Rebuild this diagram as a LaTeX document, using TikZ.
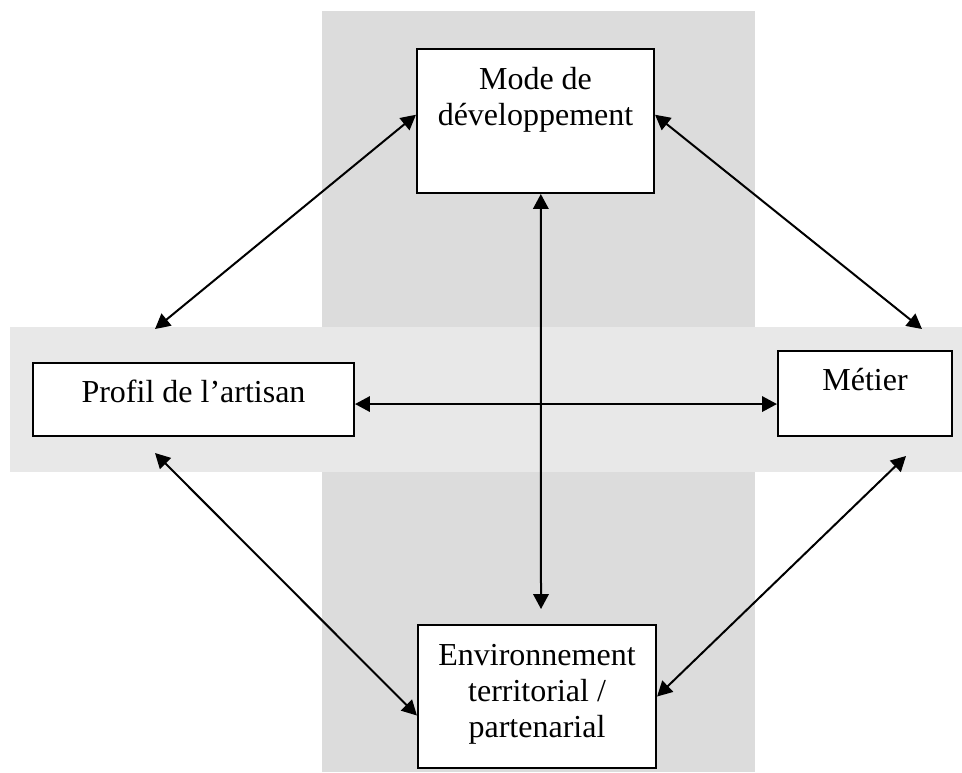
\documentclass[tikz,border=0pt]{standalone}
\usepackage{fontspec}
\setmainfont{Liberation Serif}
\usepackage{tikz}
\usetikzlibrary{arrows.meta}

\definecolor{grisfonce}{RGB}{220,220,220}
\definecolor{grisclair}{RGB}{232,232,232}
\tikzset{
	case/.style={draw, line width=0.75pt, fill=white, inner sep=0pt,
		font=\fontsize{12pt}{13.6pt}\selectfont},
	fleche/.style={<->, line width=0.75pt}
}
\newcommand{\boite}[3]{\parbox[c][#2][t]{#1}{\centering\rule{0pt}{15pt}#3}}

\begin{document}
\begin{tikzpicture}[x=0.375pt, y=-0.375pt, >={Triangle[length=5.6pt,width=5.8pt]}]
			%%%	Help Lines
%			\draw [thin, help lines, step=100] (0,0) grid (962,772);
			\useasboundingbox (0,0) rectangle (962,772);
			%%%	Fond
			\fill[grisfonce] (322,11) rectangle (755,772);
			\fill[grisclair] (10,327) rectangle (962,472);
			%%%	Cases
			\node[case] (mode) at (535.5,121) {\boite{88.9pt}{54pt}{Mode de\\développement}};
			\node[case] (profil) at (193.5,399.5) {\boite{120.4pt}{27.4pt}{Profil de l’artisan}};
			\node[case] (metier) at (865,393.5) {\boite{65.3pt}{31.9pt}{Métier}};
			\node[case] (env) at (537,696.5) {\boite{89.3pt}{53.6pt}{Environnement\\territorial /\\partenarial}};
			%%%	Flèches
			\coordinate (profilhaut) at (155,329);
			\coordinate (profilbas) at (155,453);
			\coordinate (metierhaut) at (922,329);
			\coordinate (metierbas) at (906,456);
			\coordinate (envhaut) at (541,609);
			
			\draw[fleche] (mode.177) -- (profilhaut);
			\draw[fleche] (mode.3) -- (metierhaut);
			\draw[fleche] ([xshift=2pt]mode.south) -- (envhaut);
			\draw[fleche] ([yshift=-1.7pt]profil.east) -- ([yshift=-1.7pt]profil.east -| metier.west);
			\draw[fleche] (profilbas) -- (env.189);
			\draw[fleche] (metierbas) -- (env.east);
		\end{tikzpicture}
\end{document}
